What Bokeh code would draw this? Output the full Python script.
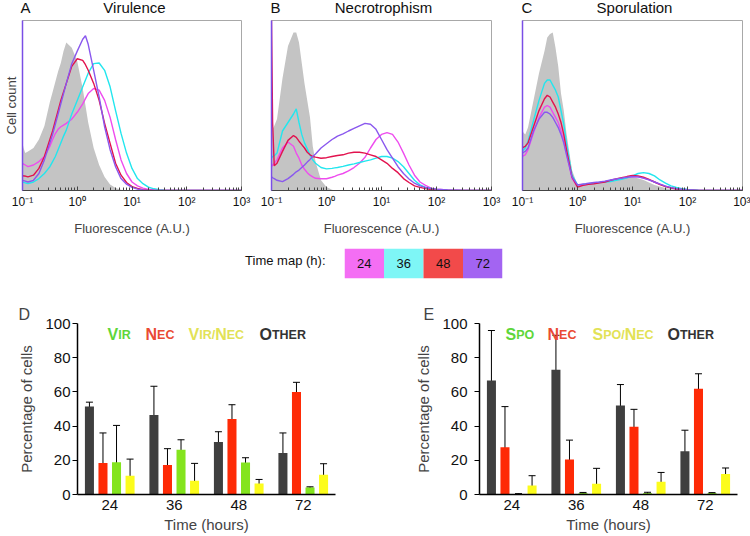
from bokeh.plotting import figure
from bokeh.layouts import row, column
from bokeh.models import (Range1d, FixedTicker, Label, Whisker, TeeHead,
                          ColumnDataSource, FactorRange)
from bokeh.transform import dodge
from bokeh.core.properties import value
from bokeh.embed import file_html
from bokeh.resources import INLINE

FONT = "Liberation Sans"

# ---------------- histogram data (log10 fluorescence, % of max count) -------------
log_fluor = [-1.0, -0.98, -0.95, -0.9, -0.8, -0.7, -0.6, -0.55, -0.5, -0.45,
             -0.4, -0.35, -0.3, -0.25, -0.2, -0.1, 0.0, 0.1, 0.15, 0.2,
             0.3, 0.4, 0.5, 0.6, 0.7, 0.8, 0.9, 1.0, 1.1, 1.2,
             1.3, 1.4, 1.5, 1.6, 1.7, 1.8, 1.9, 2.0, 2.2, 2.5, 3.0]

vir_ctrl = [28, 25, 22, 23, 25, 30, 38, 45, 52, 58,
            64, 70, 75, 82, 87, 84, 76, 60, 50, 40,
            25, 15, 8, 3.5, 1.5, 0.5, 0, 0, 0, 0,
            0, 0, 0, 0, 0, 0, 0, 0, 0, 0, 0]
vir_24 = [16, 15.5, 15, 14, 15, 17, 20, 23, 26, 30,
          33.5, 36, 37.5, 38.5, 39.5, 42, 46, 51, 54, 57,
          60, 59, 53, 43, 30, 18, 10, 5, 2.7, 1.4,
          0.7, 0.3, 0, 0, 0, 0, 0, 0, 0, 0, 0]
vir_36 = [5, 4.8, 4.5, 4, 5, 7, 10, 12, 14, 17,
          20, 24, 28, 32, 35.5, 45, 53, 61, 65, 69,
          74.6, 75, 70.7, 61, 47, 33.6, 22, 13, 7, 4,
          2, 1, 0.5, 0.2, 0, 0, 0, 0, 0, 0, 0]
vir_48 = [9, 8.5, 8.5, 8, 9, 13, 20, 25, 30, 35,
          41, 47, 53, 58, 63, 73, 77.5, 76.5, 74, 70.7,
          63, 53, 39.5, 27.7, 16, 9, 4.7, 2.3, 1.2, 0.5,
          0.2, 0, 0, 0, 0, 0, 0, 0, 0, 0, 0]
vir_72 = [6, 5.8, 5.5, 5, 6, 10, 18, 23, 28, 33,
          39, 45, 51, 57, 63, 74.6, 82, 89, 91, 86,
          70.7, 55, 37.5, 24, 14, 7, 3.7, 1.8, 0.8, 0.3,
          0, 0, 0, 0, 0, 0, 0, 0, 0, 0, 0]

nec_ctrl = [35, 36, 38, 42, 66, 85, 93, 93, 87, 75,
            63, 53, 43, 26, 17, 6, 2, 0.5, 0, 0,
            0, 0, 0, 0, 0, 0, 0, 0, 0, 0,
            0, 0, 0, 0, 0, 0, 0, 0, 0, 0, 0]
nec_24 = [14, 15, 16, 18, 25, 28.5, 26, 22, 19, 15,
          12.5, 10.5, 9, 8, 7.2, 6.9, 6.9, 7.8, 8.3, 9,
          10, 11.5, 13.5, 16, 19.5, 25, 30, 33, 34, 33,
          28.5, 22, 15, 9, 5, 3, 1.4, 0.8, 0.3, 0, 0]
nec_36 = [19, 20, 20.5, 22, 35, 40, 45, 48, 40, 33,
          28, 24.5, 21, 18, 16, 13.5, 12.7, 13, 13.3, 13.5,
          14.2, 15, 15.7, 16.5, 17.3, 18, 19, 20, 20, 19,
          17, 14, 10, 6, 3.3, 1.8, 1, 0.6, 0.2, 0, 0]
nec_48 = [100, 40, 14.5, 16, 23, 29.5, 32.3, 31.3, 29, 27,
          25, 22.5, 21, 20, 19.6, 19, 19.3, 20, 20.3, 20.6,
          21, 22, 22.5, 22.5, 22, 21, 20, 18, 16, 13,
          10.5, 7, 4.7, 2.7, 1.8, 1.1, 0.6, 0.3, 0, 0, 0]
nec_72 = [8, 7.5, 7, 6, 5.2, 7, 9.5, 11, 12, 13.5,
          15, 16.7, 18.3, 20, 21.5, 25, 27.5, 30, 31, 32,
          33.3, 35, 36.5, 38, 39.5, 39, 36, 30, 24, 19,
          14, 10, 6.8, 4.3, 2.7, 1.8, 1.2, 0.8, 0.3, 0, 0]

spo_ctrl = [35.5, 34, 33, 37, 53, 69, 82, 90, 92, 93,
            84, 73, 57, 47, 33.6, 12, 3.3, 3.3, 3.8, 4.3,
            4.7, 5.2, 5.7, 6.2, 6.7, 7.2, 7.5, 7.8, 7.2, 6.2,
            4.7, 3.3, 2.3, 1.4, 0.8, 0.4, 0.2, 0, 0, 0, 0]
spo_24 = [20, 20.5, 21, 24, 34, 43, 49, 50, 49, 46,
          43, 40, 35, 29, 22, 7, 2.5, 3.2, 3.5, 3.8,
          4.2, 4.7, 5.2, 5.8, 6.5, 7, 7.6, 8, 8, 7.3,
          6.3, 5, 3.8, 2.6, 1.7, 1, 0.6, 0.3, 0.1, 0, 0]
spo_36 = [23, 24, 25, 29, 41, 53, 63, 65, 65, 62,
          59, 55, 47, 39, 27.7, 9, 3.3, 3.6, 3.8, 4,
          4.3, 4.7, 5, 5.3, 6, 6.6, 7.5, 8.6, 10, 10.5,
          10, 8.6, 6.2, 4.3, 2.7, 1.8, 1.1, 0.6, 0.2, 0, 0]
spo_48 = [25, 25.5, 26, 28, 37.5, 47, 54, 56, 55, 52,
          49, 45, 40, 33, 24, 8, 2, 3, 3.3, 3.6,
          4, 4.5, 5, 6, 6.8, 7.5, 8.2, 8.8, 8.6, 7.8,
          6.5, 5, 3.5, 2.3, 1.5, 0.9, 0.5, 0.3, 0.1, 0, 0]
spo_72 = [22, 22.5, 23, 25, 35, 42, 46, 46, 45, 43,
          40, 37, 33, 28, 21, 8, 3.3, 3.8, 4, 4.3,
          4.7, 5, 5.5, 6.2, 6.8, 7.3, 7.8, 8.2, 8, 7.3,
          6.2, 5, 3.7, 2.6, 1.7, 1.1, 0.7, 0.4, 0.1, 0, 0]

# ---------------- time map ----------------
times = ["24", "36", "48", "72"]
time_line_colors = ["#ee4cee", "#22e6ee", "#e2124e", "#8a58ee"]
time_box_colors = ["#f46ef4", "#7ef6f6", "#f24a4a", "#a364f2"]

# ---------------- bar data (percentage of cells) ----------------
d_other = [51.5, 46.5, 30.7, 24.2]
d_other_lo = [49, 29.7, 24.4, 12.3]
d_other_hi = [54, 63.3, 36.7, 36]
d_nec = [18.4, 17.2, 44.1, 60]
d_nec_lo = [0.5, 7.2, 35.5, 54.5]
d_nec_hi = [36, 26.8, 52.5, 65.6]
d_vir = [18.8, 26.2, 18.7, 4.1]
d_vir_lo = [0, 20.5, 15.8, 3.7]
d_vir_hi = [40.4, 32, 21.5, 4.5]
d_virnec = [11, 8, 6.4, 11.5]
d_virnec_lo = [1, 0, 3.9, 4.7]
d_virnec_hi = [20.7, 18.2, 8.8, 18]

e_other = [66.7, 72.9, 52, 25.3]
e_other_lo = [37.6, 52.4, 39.4, 12.7]
e_other_hi = [95.9, 93.1, 64.3, 37.6]
e_nec = [27.6, 20.4, 39.6, 61.8]
e_nec_lo = [3.9, 8.8, 29.8, 53.1]
e_nec_hi = [51.4, 31.8, 49.8, 70.6]
e_spo = [0.3, 0.8, 0.8, 0.8]
e_spo_lo = [0.1, 0.4, 0.3, 0.5]
e_spo_hi = [0.5, 1.2, 1.3, 1.1]
e_sponec = [5.3, 6.3, 7.5, 12]
e_sponec_lo = [0, 0, 1.6, 8.2]
e_sponec_hi = [11, 15.3, 12.9, 15.5]

C_OTHER, C_NEC, C_GREEN, C_YEL = "#3f3f3f", "#fe2a06", "#84e41e", "#fcfc1c"

SVG = dict(output_backend="svg", toolbar_location=None)


def text_strip(width, height, items):
    """A figure used only to hold free text (frame = whole figure)."""
    s = figure(width=width, height=height, x_range=Range1d(0, width),
               y_range=Range1d(0, height), x_axis_location=None,
               y_axis_location=None, min_border=0, **SVG)
    s.outline_line_color = None
    s.grid.visible = False
    for x, y, txt, size, align in items:
        s.add_layout(Label(x=x, y=height - y, text=txt, text_font=FONT,
                           text_font_size=size, text_align=align,
                           text_baseline="middle", text_color="#111111"))
    return s


# ---------------- histogram panels ----------------
FW = 220


def hist_panel(ctrl, series, width, mbl, mbr, ylabel=None):
    p = figure(width=width, height=222, x_axis_type="log",
               x_range=Range1d(0.1, 1000), y_range=Range1d(0, 100),
               min_border_left=mbl, min_border_right=mbr,
               min_border_top=2, min_border_bottom=50, **SVG)
    x = [10 ** v for v in log_fluor]
    p.varea(x=x, y1=0, y2=ctrl, fill_color="#c4c4c4")
    for ys, col in zip(series, time_line_colors):
        p.line(x, ys, line_color=col, line_width=1.4)
    p.grid.visible = False
    p.outline_line_color = "#a8a8a8"
    majors = [0.1, 1.0, 10.0, 100.0, 1000.0]
    minors = [m * 10.0 ** e for e in range(-1, 3) for m in range(2, 10)]
    xa = p.xaxis[0]
    xa.ticker = FixedTicker(ticks=majors, minor_ticks=minors)
    xa.major_label_overrides = {0.1: "10⁻¹", 1.0: "10⁰", 10.0: "10¹",
                                100.0: "10²", 1000.0: "10³"}
    xa.major_tick_in = 4
    xa.major_tick_out = 0
    xa.minor_tick_in = 3
    xa.minor_tick_out = 0
    xa.major_label_standoff = 4
    xa.major_label_text_font = FONT
    xa.major_label_text_font_size = "12px"
    xa.major_label_text_color = "#111111"
    xa.axis_line_color = "#444444"
    xa.major_tick_line_color = "#444444"
    xa.minor_tick_line_color = "#444444"
    xa.axis_label = "Fluorescence (A.U.)"
    xa.axis_label_text_font = FONT
    xa.axis_label_text_font_size = "13px"
    xa.axis_label_text_font_style = "normal"
    xa.axis_label_standoff = 9
    ya = p.yaxis[0]
    ya.ticker = FixedTicker(ticks=[])
    ya.major_label_text_font_size = "0px"
    ya.major_tick_out = 0
    ya.minor_tick_out = 0
    ya.major_label_standoff = 0
    ya.axis_line_color = "#7a4ee6"
    ya.axis_line_width = 1.5
    if ylabel:
        ya.axis_label = ylabel
        ya.axis_label_text_font = FONT
        ya.axis_label_text_font_size = "13px"
        ya.axis_label_text_font_style = "normal"
        ya.axis_label_standoff = 4
    return p


titles = text_strip(750, 18, [
    (20, 7, "A", "15px", "left"), (134, 7, "Virulence", "15px", "center"),
    (270, 7, "B", "15px", "left"), (383, 7, "Necrotrophism", "15px", "center"),
    (521, 7, "C", "15px", "left"), (634, 7, "Sporulation", "15px", "center")])

pA = hist_panel(vir_ctrl, [vir_24, vir_36, vir_48, vir_72], 256, 21, 15,
                ylabel="Cell count")
pB = hist_panel(nec_ctrl, [nec_24, nec_36, nec_48, nec_72], 250, 15, 15)
pC = hist_panel(spo_ctrl, [spo_24, spo_36, spo_48, spo_72], 244, 16, 8)

# ---------------- time map ----------------
tm_label = text_strip(344, 56, [(325, 23, "Time map (h):", "13px", "right")])
tm = figure(width=406, height=56, x_range=FactorRange(*times),
            y_range=Range1d(0, 1), x_axis_location=None, y_axis_location=None,
            min_border_left=0, min_border_right=248, min_border_top=8,
            min_border_bottom=18, **SVG)
tm.outline_line_color = None
tm.grid.visible = False
tm.vbar(x=times, top=1, bottom=0, width=1.0, fill_color=time_box_colors,
        line_color=None)
tm.text(x=times, y=0.5, text=times, text_font=value(FONT),
        text_font_size="13px", text_align="center", text_baseline="middle",
        text_color="#111111")

# ---------------- bar panels ----------------
OFFS = [-0.315, -0.105, 0.105, 0.315]
BFH = 171
GW = 64.5


def small_caps(p, x0_px, frame_left, y, parts, color):
    big, small = 16, 12.5
    wid = {"V": .667, "I": .278, "R": .722, "/": .278, "N": .722, "E": .667,
           "C": .722, "O": .778, "T": .611, "H": .722, "S": .667, "P": .667}
    xd = (x0_px - frame_left) / GW
    off = 0.0
    for txt, is_big in parts:
        size = big if is_big else small
        p.add_layout(Label(x=xd, y=y, x_offset=off, text=txt, text_font=FONT,
                           text_font_size=f"{size}px", text_font_style="bold",
                           text_color=color, text_align="left",
                           text_baseline="alphabetic"))
        off += sum(wid[c] for c in txt) * size


def bar_panel(letter, width, mbl, mbr, frame_left, letter_px, ylab_standoff,
              cols, legend):
    p = figure(width=width, height=240, x_range=FactorRange(*times),
               y_range=Range1d(0, 100), min_border_left=mbl,
               min_border_right=mbr, min_border_top=27, min_border_bottom=42,
               **SVG)
    p.outline_line_color = None
    p.grid.visible = False
    p.title.text = letter
    p.title.align = "left"
    p.title.offset = letter_px - frame_left
    p.title.standoff = 2
    p.title.text_font = FONT
    p.title.text_font_size = "16px"
    p.title.text_font_style = "normal"
    src = ColumnDataSource(dict(t=times, **{k: v for k, v in cols}))
    names = [k for k, _ in cols if not k.endswith("_lo") and not k.endswith("_hi")]
    colors = [C_OTHER, C_NEC, C_GREEN, C_YEL]
    for name, off, col in zip(names, OFFS, colors):
        p.vbar(x=dodge("t", off, range=p.x_range), top=name, width=0.14,
               source=src, fill_color=col, line_color=None)
        p.add_layout(Whisker(base=dodge("t", off, range=p.x_range),
                             upper=name + "_hi", lower=name + "_lo", source=src,
                             line_color="black", line_width=1,
                             upper_head=TeeHead(size=7, line_color="black", line_width=1),
                             lower_head=TeeHead(size=7, line_color="black", line_width=1)))
    xa = p.xaxis[0]
    xa.major_tick_in = 0
    xa.major_tick_out = 0
    xa.axis_line_color = "black"
    xa.axis_line_width = 1.5
    xa.major_label_text_font = FONT
    xa.major_label_text_font_size = "15px"
    xa.major_label_text_color = "#111111"
    xa.major_label_standoff = 5
    xa.axis_label = "Time (hours)"
    xa.axis_label_text_font = FONT
    xa.axis_label_text_font_size = "15px"
    xa.axis_label_text_font_style = "normal"
    xa.axis_label_standoff = 3
    ya = p.yaxis[0]
    ya.ticker = FixedTicker(ticks=[0, 20, 40, 60, 80, 100])
    ya.minor_tick_out = 0
    ya.minor_tick_in = 0
    ya.major_tick_in = 0
    ya.major_tick_out = 5
    ya.axis_line_color = "black"
    ya.axis_line_width = 1.5
    ya.major_label_text_font = FONT
    ya.major_label_text_font_size = "15px"
    ya.major_label_text_color = "#111111"
    ya.major_label_standoff = ylab_standoff
    ya.axis_label = "Percentage of cells"
    ya.axis_label_text_font = FONT
    ya.axis_label_text_font_size = "15px"
    ya.axis_label_text_font_style = "normal"
    ya.axis_label_standoff = 7
    ly = 100 - 11.0 / (BFH / 100.0)
    for x0, parts, col in legend:
        small_caps(p, x0, frame_left, ly, parts, col)
    return p


pD = bar_panel("D", 390, 77, 55, 77, 18, 2,
               [("other", d_other), ("other_lo", d_other_lo), ("other_hi", d_other_hi),
                ("nec", d_nec), ("nec_lo", d_nec_lo), ("nec_hi", d_nec_hi),
                ("vir", d_vir), ("vir_lo", d_vir_lo), ("vir_hi", d_vir_hi),
                ("virnec", d_virnec), ("virnec_lo", d_virnec_lo), ("virnec_hi", d_virnec_hi)],
               [(107, [("V", True), ("IR", False)], "#5ed63a"),
                (145, [("N", True), ("EC", False)], "#ea4a34"),
                (188, [("V", True), ("IR/", False), ("N", True), ("EC", False)], "#e2e256"),
                (259, [("O", True), ("THER", False)], "#333333")])

pE = bar_panel("E", 360, 89, 13, 479, 423, 7,
               [("other", e_other), ("other_lo", e_other_lo), ("other_hi", e_other_hi),
                ("nec", e_nec), ("nec_lo", e_nec_lo), ("nec_hi", e_nec_hi),
                ("spo", e_spo), ("spo_lo", e_spo_lo), ("spo_hi", e_spo_hi),
                ("sponec", e_sponec), ("sponec_lo", e_sponec_lo), ("sponec_hi", e_sponec_hi)],
               [(505, [("S", True), ("PO", False)], "#5ed63a"),
                (547, [("N", True), ("EC", False)], "#ea4a34"),
                (592, [("S", True), ("PO/", False), ("N", True), ("EC", False)], "#e2e256"),
                (667, [("O", True), ("THER", False)], "#333333")])

layout = column(titles, row(pA, pB, pC), row(tm_label, tm), row(pD, pE))

with open("out.html", "w") as f:
    f.write(file_html(layout, INLINE))
